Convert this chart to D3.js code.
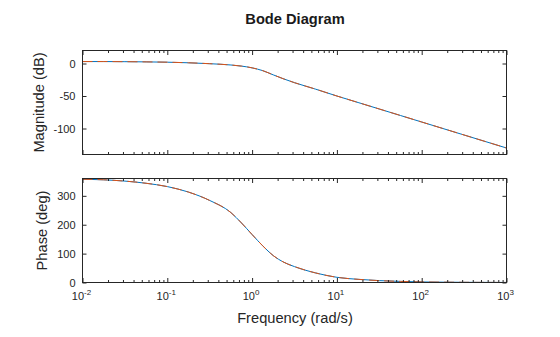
<!DOCTYPE html>
<html>
<head>
<meta charset="utf-8">
<script src="https://cdn.jsdelivr.net/npm/d3@7"></script>
<style>
  html, body { margin: 0; padding: 0; background: #fff; }
  svg { display: block; }
  text { font-family: "Liberation Sans", Arial, Helvetica, sans-serif; fill: #262626; }
</style>
</head>
<body>
<svg id="chart" width="560" height="337"></svg>
<script>
// ---------- data ----------
const frequency = [0.01, 0.01778, 0.03162, 0.05623, 0.1, 0.1778, 0.3162, 0.5623, 0.7499, 1,
                   1.334, 1.778, 2.371, 3.162, 5.623, 10, 17.78, 31.62, 56.23, 100, 316.2, 1000];
const magnitudeSys1 = [3.0, 3.0, 2.8, 2.5, 2.0, 1.1, -0.3, -2.3, -4.0, -6.7,
                       -11, -17.5, -23.8, -29.5, -39.5, -50, -60, -70, -80, -90, -110, -130];
const magnitudeSys2 = [3.0, 3.0, 2.8, 2.5, 2.0, 1.1, -0.3, -2.3, -4.0, -6.7,
                       -11, -17.5, -23.8, -29.5, -39.5, -50, -60, -70, -80, -90, -110, -130];
const phaseSys1 = [357.5, 355.5, 351, 343.5, 332, 313, 284, 242, 206, 166,
                   127, 93, 70, 55, 33, 18, 11, 6.5, 3.8, 2, 0.7, 0.2];
const phaseSys2 = [357.5, 355.5, 351, 343.5, 332, 313, 284, 242, 206, 166,
                   127, 93, 70, 55, 33, 18, 11, 6.5, 3.8, 2, 0.7, 0.2];
const magTicks = [0, -50, -100];
const phaseTicks = [0, 100, 200, 300];
const decadeTicks = [0.01, 0.1, 1, 10, 100, 1000];
const decadeExponents = ["-2", "-1", "0", "1", "2", "3"];
const titleText = "Bode Diagram";
const magLabel = "Magnitude (dB)";
const phaseLabel = "Phase (deg)";
const xLabel = "Frequency (rad/s)";
const colors = ["#0072BD", "#D95319"];

// ---------- layout ----------
const svg = d3.select("#chart");
const left = 82.5, right = 506.5;
const magTop = 50.5, magBottom = 154.5;
const phTop = 178.5, phBottom = 282.5;
const axisColor = "#262626";

const x = d3.scaleLog().domain([0.01, 1000]).range([left, right]);
const yMag = d3.scaleLinear().domain([-140, 20]).range([magBottom, magTop]);
const yPh = d3.scaleLinear().domain([0, 360]).range([phBottom, phTop]);

// minor ticks
const minorTicks = [];
for (let e = -2; e < 3; e++) {
  for (let k = 2; k <= 9; k++) minorTicks.push(k * Math.pow(10, e));
}

function panel(y, top, bottom, ticks, values1, values2, label, labelX, showX) {
  const g = svg.append("g");
  const id = "clip" + Math.round(top);
  svg.append("clipPath").attr("id", id).append("rect")
    .attr("x", left).attr("y", top - 1).attr("width", right - left).attr("height", bottom - top + 2);

  const line = d3.line()
    .x((d, i) => x(frequency[i]))
    .y(d => y(d))
    .curve(d3.curveMonotoneX);

  g.append("path").datum(values1)
    .attr("d", line).attr("fill", "none")
    .attr("stroke", colors[0]).attr("stroke-width", 1)
    .attr("clip-path", `url(#${id})`);
  g.append("path").datum(values2)
    .attr("d", line).attr("fill", "none")
    .attr("stroke", colors[1]).attr("stroke-width", 1)
    .attr("stroke-dasharray", "10,5")
    .attr("clip-path", `url(#${id})`);

  const yl = g.append("g").attr("transform", `translate(${left},0)`)
    .call(d3.axisLeft(y).tickValues(ticks).tickSize(-4).tickPadding(7)
      .tickFormat(d => String(d).replace("\u2212", "-")));
  const yr = g.append("g").attr("transform", `translate(${right},0)`)
    .call(d3.axisRight(y).tickValues(ticks).tickSize(-4).tickFormat(""));
  const xbMaj = g.append("g").attr("transform", `translate(0,${bottom})`)
    .call(d3.axisBottom(x).tickValues(decadeTicks).tickSize(-4.5).tickFormat(""));
  const xbMin = g.append("g").attr("transform", `translate(0,${bottom})`)
    .call(d3.axisBottom(x).tickValues(minorTicks).tickSize(-2.5).tickFormat(""));
  const xtMaj = g.append("g").attr("transform", `translate(0,${top})`)
    .call(d3.axisTop(x).tickValues(decadeTicks).tickSize(-4.5).tickFormat(""));
  const xtMin = g.append("g").attr("transform", `translate(0,${top})`)
    .call(d3.axisTop(x).tickValues(minorTicks).tickSize(-2.5).tickFormat(""));

  [yl, yr, xbMaj, xbMin, xtMaj, xtMin].forEach(a => {
    a.select(".domain").remove();
    a.selectAll("line").attr("stroke", axisColor).attr("stroke-width", 1);
    a.selectAll("text").attr("font-size", 11).attr("fill", axisColor)
      .attr("font-family", '"Liberation Sans", Arial, Helvetica, sans-serif');
  });

  g.append("rect").attr("x", left).attr("y", top)
    .attr("width", right - left).attr("height", bottom - top)
    .attr("fill", "none").attr("stroke", axisColor).attr("stroke-width", 1);

  g.append("text")
    .attr("transform", `translate(${labelX},${(top + bottom) / 2}) rotate(-90)`)
    .attr("text-anchor", "middle").attr("font-size", 14.67)
    .text(label);

  if (showX) {
    decadeTicks.forEach((t, i) => {
      const tx = g.append("text")
        .attr("x", x(t) - 1).attr("y", bottom + 17.5)
        .attr("text-anchor", "middle").attr("font-size", 11);
      tx.append("tspan").text("10");
      tx.append("tspan").attr("dy", -5.5).attr("font-size", 8).text(decadeExponents[i]);
    });
  }
}

panel(yMag, magTop, magBottom, magTicks, magnitudeSys1, magnitudeSys2, magLabel, 44, false);
panel(yPh, phTop, phBottom, phaseTicks, phaseSys1, phaseSys2, phaseLabel, 46.5, true);

svg.append("text").attr("x", 295).attr("y", 23.5)
  .attr("text-anchor", "middle").attr("font-size", 14.67).attr("font-weight", "bold")
  .style("fill", "#1a1a1a")
  .text(titleText);

svg.append("text").attr("x", 295).attr("y", 323)
  .attr("text-anchor", "middle").attr("font-size", 14.67)
  .text(xLabel);
</script>
</body>
</html>
